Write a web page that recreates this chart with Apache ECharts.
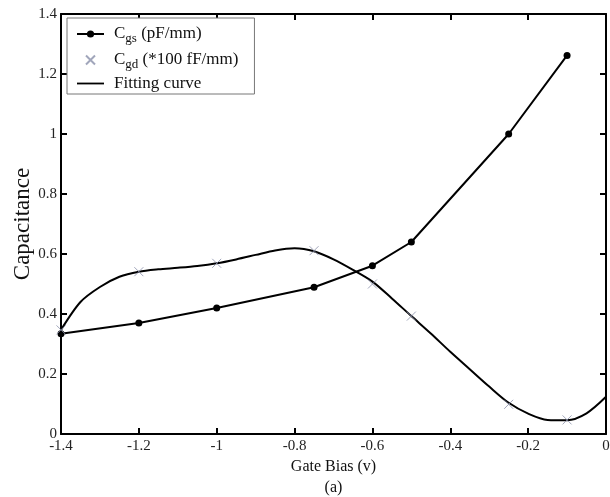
<!DOCTYPE html>
<html>
<head>
<meta charset="utf-8">
<script src="https://cdn.jsdelivr.net/npm/echarts@6/dist/echarts.min.js"></script>
<style>
  html, body { margin: 0; padding: 0; background: #fff; }
  #chart { width: 610px; height: 497px; }
</style>
</head>
<body>
<div id="chart"></div>
<script>
const biasPoints = [-1.4, -1.2, -1.0, -0.75, -0.6, -0.5, -0.25, -0.1];
const cgsValues = [0.334, 0.37, 0.42, 0.489, 0.561, 0.64, 1.0, 1.262];
const cgdValues = [0.347, 0.541, 0.569, 0.611, 0.50, 0.393, 0.099, 0.047];
const fitBias = [-1.4, -1.35, -1.3, -1.25, -1.2, -1.15, -1.1, -1.05, -1.0, -0.95, -0.9, -0.85, -0.8, -0.75, -0.7, -0.65, -0.6, -0.55, -0.5, -0.45, -0.4, -0.35, -0.3, -0.25, -0.2, -0.15, -0.1, -0.05, 0];
const fitValues = [0.347, 0.44, 0.49, 0.524, 0.541, 0.549, 0.554, 0.56, 0.569, 0.582, 0.597, 0.612, 0.619, 0.609, 0.582, 0.547, 0.508, 0.452, 0.393, 0.335, 0.274, 0.216, 0.158, 0.104, 0.068, 0.047, 0.046, 0.069, 0.124];

const font = "Liberation Serif";
const crossPath = "path://M0,0L10,10M10,0L0,10";

function pairs(xs, ys) {
  return xs.map(function (x, i) { return [x, ys[i]]; });
}

const chart = echarts.init(document.getElementById("chart"));

const baseX = {
  type: "value",
  min: -1.4,
  max: 0,
  interval: 0.2,
  axisLine: { onZero: false, lineStyle: { color: "#000", width: 2 } },
  axisTick: { inside: true, length: 6, lineStyle: { color: "#000", width: 2 } },
  splitLine: { show: false }
};
const baseY = {
  type: "value",
  min: 0,
  max: 1.4,
  interval: 0.2,
  axisLine: { onZero: false, lineStyle: { color: "#000", width: 2 } },
  axisTick: { inside: true, length: 6, lineStyle: { color: "#000", width: 2 } },
  splitLine: { show: false }
};

const option = {
  animation: false,
  backgroundColor: "#fff",
  textStyle: { fontFamily: font },
  grid: { left: 61, right: 4, top: 14, bottom: 63, containLabel: false, outerBoundsMode: "none" },
  xAxis: [
    Object.assign({}, baseX, {
      position: "bottom",
      name: "Gate Bias (v)\n(a)",
      nameLocation: "middle",
      nameGap: 22,
      nameMoveOverlap: false,
      nameTextStyle: { fontFamily: font, fontSize: 16, color: "#111", lineHeight: 21 },
      axisLabel: {
        fontFamily: font, fontSize: 15, color: "#222", margin: 5,
        formatter: function (v) { return String(Math.round(v * 10) / 10); }
      }
    }),
    Object.assign({}, baseX, { position: "top", axisLabel: { show: false } })
  ],
  yAxis: [
    Object.assign({}, baseY, {
      position: "left",
      name: "Capacitance",
      nameLocation: "middle",
      nameGap: 27,
      nameMoveOverlap: false,
      nameTextStyle: { fontFamily: font, fontSize: 23, color: "#111" },
      axisLabel: {
        fontFamily: font, fontSize: 15, color: "#222", margin: 4,
        formatter: function (v) { return String(Math.round(v * 10) / 10); }
      }
    }),
    Object.assign({}, baseY, { position: "right", axisLabel: { show: false } })
  ],
  legend: {
    orient: "vertical",
    left: 67,
    top: 18,
    padding: [5, 16, 2, 9],
    itemGap: 4,
    itemWidth: 27,
    itemHeight: 9,
    backgroundColor: "#fff",
    borderColor: "#777",
    borderWidth: 1,
    borderRadius: 0,
    data: [
      { name: "Cgs" },
      { name: "Cgd" },
      { name: "Fitting curve", icon: "path://M0,0H30V2H0Z" }
    ],
    formatter: function (name) {
      if (name === "Cgs") return "{b|C}{s|gs}{b| (pF/mm)}";
      if (name === "Cgd") return "{b|C}{s|gd}{b| (*100 fF/mm)}";
      return "{b|Fitting curve}";
    },
    textStyle: {
      fontFamily: font,
      color: "#111",
      padding: [0, 0, 0, 5],
      rich: {
        b: { fontFamily: font, fontSize: 17, color: "#111", lineHeight: 24 },
        s: { fontFamily: font, fontSize: 13, color: "#111", lineHeight: 24, padding: [9, 0, 0, 0] }
      }
    }
  },
  series: [
    {
      name: "Fitting curve",
      type: "line",
      data: pairs(fitBias, fitValues),
      smooth: 0.3,
      symbol: "none",
      lineStyle: { color: "#000", width: 2 },
      itemStyle: { color: "#000" },
      z: 2
    },
    {
      name: "Cgs",
      type: "line",
      data: pairs(biasPoints, cgsValues),
      symbol: "circle",
      symbolSize: 7,
      lineStyle: { color: "#000", width: 2 },
      itemStyle: { color: "#000" },
      z: 3
    },
    {
      name: "Cgd",
      type: "scatter",
      data: pairs(biasPoints, cgdValues),
      symbol: crossPath,
      symbolSize: 9,
      itemStyle: { color: "none", borderColor: "#8a90aa", borderWidth: 1 },
      z: 4
    }
  ]
};

chart.setOption(option);
</script>
</body>
</html>
